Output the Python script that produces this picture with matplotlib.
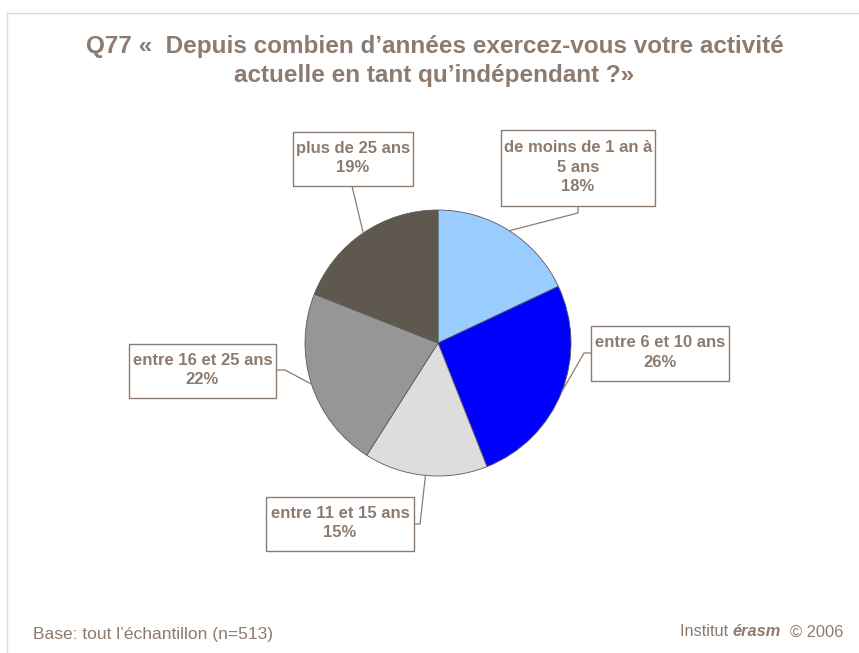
import numpy as np
import matplotlib
matplotlib.use("Agg")
import matplotlib.pyplot as plt
from matplotlib.patches import Rectangle

plt.rcParams['font.family'] = ['Liberation Sans', 'DejaVu Sans']

labels = ["de moins de 1 an à\n5 ans", "entre 6 et 10 ans", "entre 11 et 15 ans",
          "entre 16 et 25 ans", "plus de 25 ans"]
values = [18, 26, 15, 22, 19]
colors = ["#99CCFF", "#0000FF", "#DDDDDD", "#969696", "#5F584E"]

W, H = 859, 653
txt = "#8C7B6E"

# label boxes in pixel coords (left, top, right, bottom) and elbow of leader line
boxes = [(501, 130, 655, 206), (591, 326, 729, 381), (266, 497, 414, 551),
         (129, 344, 276, 398), (293, 132, 413, 186)]
elbows = [[(578, 206), (578, 213)], [(591, 353), (584, 353)], [(414, 524), (420, 524)],
          [(276, 370), (285, 370)], [(352, 186)]]

fig = plt.figure(figsize=(W / 100, H / 100), dpi=100)
ax = fig.add_axes([0, 0, 1, 1])

cx, cy, r = 438, H - 343, 133
wedges, _ = ax.pie(values, colors=colors, startangle=90, counterclock=False,
                   center=(cx, cy), radius=r, frame=True,
                   wedgeprops=dict(edgecolor="#5a5a5a", linewidth=0.6))
ax.set_xlim(0, W)
ax.set_ylim(0, H)
ax.set_aspect("equal")
ax.axis("off")

for w, lab, v, b, el in zip(wedges, labels, values, boxes, elbows):
    mid = np.deg2rad((w.theta1 + w.theta2) / 2)
    ex, ey = cx + r * np.cos(mid), cy + r * np.sin(mid)
    pts = [(x, H - y) for x, y in el] + [(ex, ey)]
    ax.plot([p[0] for p in pts], [p[1] for p in pts], color=txt, lw=0.9, zorder=3)
    l, t, rr, bt = b
    ax.add_patch(Rectangle((l, H - bt), rr - l, bt - t, facecolor="white",
                           edgecolor=txt, lw=1.0, zorder=4))
    ax.text((l + rr) / 2, H - (t + bt) / 2 + 1, f"{lab}\n{v}%", ha="center", va="center",
            color=txt, fontsize=12, fontweight="bold", linespacing=1.4, zorder=5)

ax.text(W / 2 + 5, H - 61, "Q77 «  Depuis combien d’années exercez-vous votre activité\nactuelle en tant qu’indépendant ?»",
        ha="center", va="center", color=txt, fontsize=17.5, fontweight="bold", linespacing=1.38)

# frame lines
ax.plot([7, W], [H - 13, H - 13], color="#DCDCDC", lw=1)
ax.plot([7, 7], [H - 13, 0], color="#DCDCDC", lw=1)

ax.text(33, H - 634, "Base: tout l’échantillon (n=513)", ha="left", va="center",
        color=txt, fontsize=12.5)
t1 = ax.text(843, H - 632, "  © 2006", ha="right", va="center", color=txt, fontsize=11.8)
t2 = ax.annotate("érasm", xy=(0, 0.5), xycoords=t1, ha="right", va="center",
                 color=txt, fontsize=11.8, fontweight="bold", fontstyle="italic")
ax.annotate("Institut ", xy=(0, 0.5), xycoords=t2, ha="right", va="center",
            color=txt, fontsize=11.8)

fig.savefig("out.png", dpi=100)
